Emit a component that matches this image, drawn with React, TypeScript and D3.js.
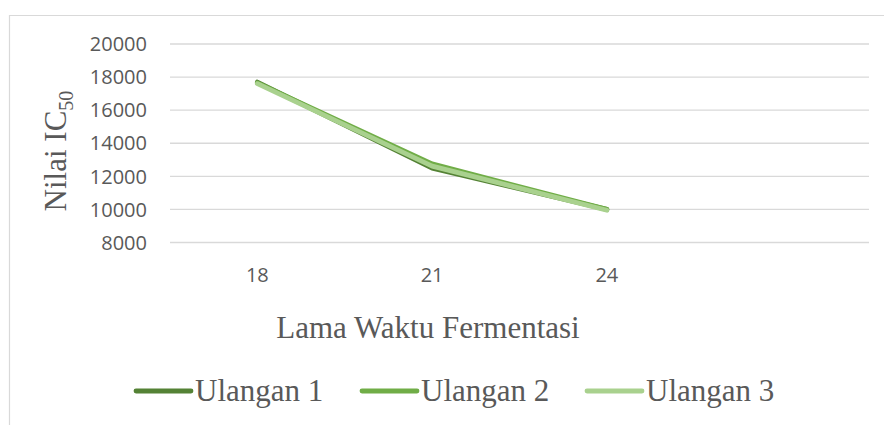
import React from "react";
import * as d3 from "d3";

const categories = ["18", "21", "24", ""];
const seriesNames = ["Ulangan 1", "Ulangan 2", "Ulangan 3"];
const ulangan1 = [17700, 12500, 10000];
const ulangan2 = [17650, 12750, 10000];
const ulangan3 = [17600, 12620, 9950];
const yTicks = [8000, 10000, 12000, 14000, 16000, 18000, 20000];
const colors = ["#548235", "#70AD47", "#A9D18E"];

const W = 884;
const H = 425;

export default function App() {
  const x = d3.scaleBand<string>().domain(categories).range([170, 869]);
  const y = d3.scaleLinear().domain([8000, 20000]).range([242.5, 44]);
  const series = [ulangan1, ulangan2, ulangan3];
  const line = d3
    .line<number>()
    .x((_, i) => (x(categories[i]) as number) + x.bandwidth() / 2)
    .y((d) => y(d));

  const legendX = [136, 362, 587];
  const legendY = 391;
  const grey = "#595959";

  return (
    <svg
      width={W}
      height={H}
      style={{ position: "absolute", left: 0, top: 0, background: "#fff" }}
    >
      <rect x={0} y={0} width={W} height={H} fill="#fff" />
      <path d="M9.5,426 V15.5 H885" fill="none" stroke="#d9d9d9" strokeWidth={1.2} />
      {yTicks.map((t) => (
        <g key={t}>
          <line x1={170} x2={869} y1={y(t)} y2={y(t)} stroke="#d9d9d9" strokeWidth={1.3} />
          <text
            x={147}
            y={y(t)}
            dy="0.36em"
            textAnchor="end"
            fill={grey}
            fontFamily="'Open Sans', sans-serif"
            fontSize={20}
          >
            {t}
          </text>
        </g>
      ))}
      {categories.map((c) => (
        <text
          key={c}
          x={(x(c) as number) + x.bandwidth() / 2}
          y={282}
          textAnchor="middle"
          fill={grey}
          fontFamily="'Open Sans', sans-serif"
          fontSize={20}
        >
          {c}
        </text>
      ))}
      {series.map((s, i) => (
        <path
          key={i}
          d={line(s) as string}
          fill="none"
          stroke={colors[i]}
          strokeWidth={4.8}
          strokeLinecap="round"
          strokeLinejoin="round"
        />
      ))}
      <text
        x={428}
        y={338}
        textAnchor="middle"
        fill={grey}
        fontFamily="'Liberation Serif', 'Times New Roman', serif"
        fontSize={31}
      >
        Lama Waktu Fermentasi
      </text>
      <text
        transform="translate(66,151) rotate(-90)"
        textAnchor="middle"
        fill={grey}
        fontFamily="'Liberation Serif', 'Times New Roman', serif"
        fontSize={31}
      >
        Nilai IC
        <tspan fontSize={20} dy={7}>
          50
        </tspan>
      </text>
      {seriesNames.map((n, i) => (
        <g key={n}>
          <line
            x1={legendX[i]}
            x2={legendX[i] + 55}
            y1={legendY}
            y2={legendY}
            stroke={colors[i]}
            strokeWidth={4.8}
            strokeLinecap="round"
          />
          <text
            x={legendX[i] + 59}
            y={401}
            fill={grey}
            fontFamily="'Liberation Serif', 'Times New Roman', serif"
            fontSize={31}
          >
            {n}
          </text>
        </g>
      ))}
    </svg>
  );
}
